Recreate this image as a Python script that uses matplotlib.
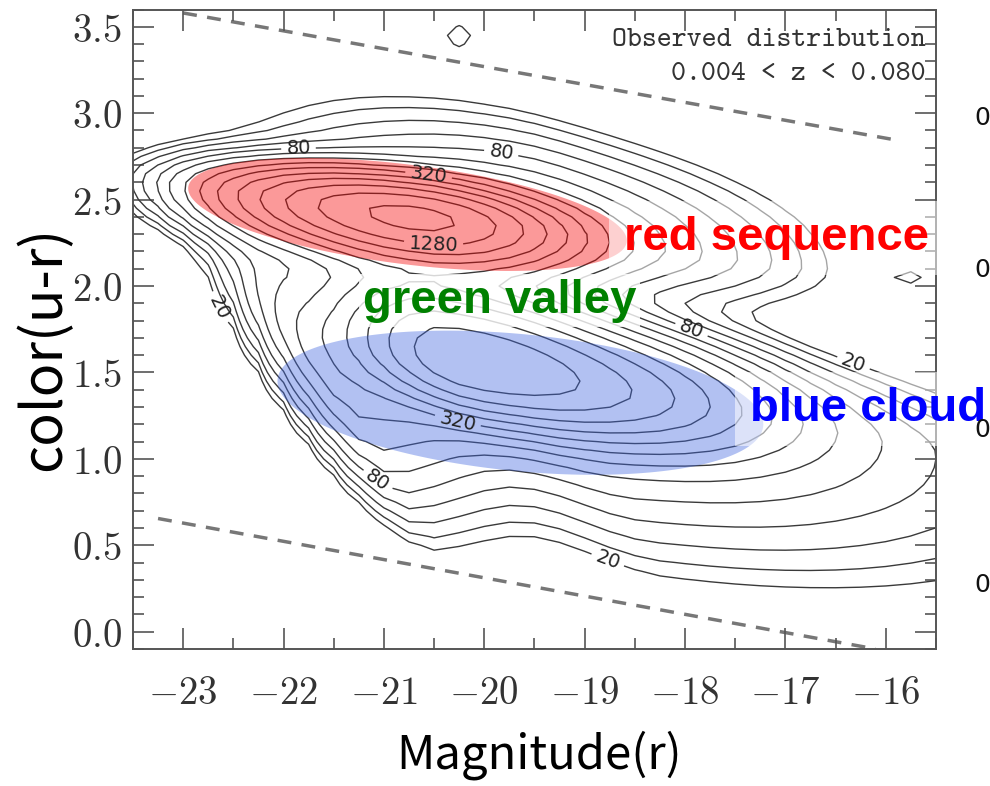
import numpy as np
import matplotlib
matplotlib.use("Agg")
import matplotlib.pyplot as plt
from matplotlib.patches import Polygon

plt.rcParams['mathtext.fontset'] = 'cm'

# model of the observed counts: red sequence (core, colour wing, faint end),
# blue cloud (core, faint extension, bright-end wing, broad tail), two small islands
comp_amp   = [1900, 110, 130, 1500, 500, 260, 150, 25, 20]
comp_mag   = [-20.7, -20.6, -19.3, -20.2, -18.7, -21.45, -19.0, -20.25, -15.75]
comp_col   = [2.40, 2.42, 2.30, 1.57, 1.40, 1.50, 1.40, 3.45, 2.05]
comp_slope = [-0.075, -0.075, -0.075, -0.11, -0.09, -0.11, -0.11, 0.0, 0.0]
comp_tilt  = [0.0, 0.0, 0.0, 0.5, 0.0, 1.0, 0.8, 0.0, 0.0]
comp_wb    = [1.0, 1.1, 0.8, 0.55, 0.9, 0.35, 0.8, 0.2, 0.2]
comp_wf    = [0.78, 1.0, 1.4, 0.9, 0.9, 1.0, 2.5, 0.2, 0.2]
comp_sd    = [0.146, 0.30, 0.18, 0.17, 0.18, 0.45, 0.50, 0.08, 0.05]
comp_su    = [0.12, 0.35, 0.30, 0.22, 0.20, 0.40, 0.25, 0.08, 0.05]

levels = [20, 28, 40, 57, 80, 113, 160, 226, 320, 453, 640, 905, 1280, 1810]
label_levels = [20, 80, 320, 1280]
label_pos = [(-19.8, 2.9), (-21.85, 2.78), (-20.55, 2.67), (-20.5, 2.27),
             (-22.7, 1.86), (-17.96, 1.71), (-16.35, 1.51), (-20.3, 1.14),
             (-20.87, 1.02), (-18.66, 0.58)]

# selection limits (dashed)
top_line_mag = [-23.0, -15.85]
top_line_col = [3.58, 2.84]
bot_line_mag = [-23.25, -16.1]
bot_line_col = [0.655, -0.10]

# highlighted regions: centre mag, centre colour, half length, half height, tilt
ell_names = ['red', 'blue']
ell_mag = [-20.765, -19.64]
ell_col = [2.414, 1.325]
ell_a = [2.185, 2.42]
ell_b = [0.29, 0.398]
ell_tilt = [0.069, 0.0517]
ell_face = ['#f50000', '#3f66e0']
ell_alpha = [0.40, 0.40]

xticks = [-23, -22, -21, -20, -19, -18, -17, -16]
yticks = [0.0, 0.5, 1.0, 1.5, 2.0, 2.5, 3.0, 3.5]


def density(M, C):
    z = np.zeros_like(M)
    for A, m0, c0, k, q, wb, wf, sd, su in zip(comp_amp, comp_mag, comp_col, comp_slope,
                                               comp_tilt, comp_wb, comp_wf, comp_sd, comp_su):
        ub = np.minimum(M - m0 + q * (C - c0), 0)
        uf = np.maximum(M - m0, 0)
        v = C - (c0 + k * (M - m0))
        wv = np.where(v < 0, sd, su)
        z += A * np.exp(-0.5 * ((ub / wb) ** 2 + (uf / wf) ** 2 + (v / wv) ** 2))
    return z


fig = plt.figure(figsize=(9.9, 7.86), dpi=100)
ax = fig.add_axes([0.1343, 0.1743, 0.8111, 0.8136])

mag = np.linspace(-23.5, -15.5, 33)
col = np.linspace(-0.1, 3.6, 75)
MM, CC = np.meshgrid(mag, col)
ZZ = density(MM, CC)

plain = [l for l in levels if l not in label_levels]
ax.contour(MM, CC, ZZ, levels=plain, colors='#3a3a3a', linewidths=1.0, zorder=2)
cs = ax.contour(MM, CC, ZZ, levels=label_levels, colors='#3a3a3a', linewidths=1.0, zorder=2)
ax.clabel(cs, manual=label_pos, fmt='%d', fontsize=14, inline=True, colors='#222222')

ax.plot(top_line_mag, top_line_col, ls=(0, (4, 3)), color='#777777', lw=2.5, zorder=1)
ax.plot(bot_line_mag, bot_line_col, ls=(0, (4, 3)), color='#777777', lw=2.5, zorder=1)

t = np.linspace(0, 2 * np.pi, 200)
for i in range(len(ell_names)):
    ex = ell_mag[i] + ell_a[i] * np.cos(t)
    ey = ell_col[i] + ell_b[i] * np.sin(t) - ell_tilt[i] * ell_a[i] * np.cos(t)
    ax.add_patch(Polygon(np.column_stack([ex, ey]), closed=True, facecolor=ell_face[i],
                         edgecolor='none', alpha=ell_alpha[i], zorder=3))

lab_font = dict(fontsize=34, fontweight='bold', family='Liberation Sans',
                va='center', ha='left', zorder=5, clip_on=False)
ax.text(-18.61, 2.28, 'red sequence', color='#ff0000', **lab_font,
        bbox=dict(facecolor='white', edgecolor='none', alpha=0.55, pad=11))
ax.text(-21.21, 1.915, 'green valley', color='#008000', **lab_font,
        bbox=dict(facecolor='white', edgecolor='none', alpha=0.8, pad=3))
ax.text(-17.35, 1.29, 'blue cloud', color='#0000ff', **lab_font,
        bbox=dict(facecolor='white', edgecolor='none', alpha=0.55, pad=11))

ax.text(0.987, 0.952, 'Observed distribution', transform=ax.transAxes, ha='right',
        va='center', family='cmtt10', fontsize=20.5, color='#333333')
ax.text(0.987, 0.898, '0.004 < z < 0.080', transform=ax.transAxes, ha='right',
        va='center', family='cmtt10', fontsize=20.5, color='#333333')

ax.set_xlim(-23.5, -15.5)
ax.set_ylim(-0.1, 3.6)
ax.set_xticks(xticks, ['$%d$' % v for v in xticks])
ax.set_yticks(yticks, ['$%.1f$' % v for v in yticks])
ax.set_xticks(np.arange(-23.5, -15.4, 0.5), minor=True)
ax.set_yticks(np.arange(-0.1, 3.61, 0.1), minor=True)
ax.tick_params(which='both', direction='in', top=True, right=True, color='#555555', width=1.2)
ax.tick_params(which='major', length=15, labelsize=28, labelcolor='#333333')
ax.tick_params(which='minor', length=8)
ax.tick_params(axis='x', pad=18)
ax.tick_params(axis='y', pad=8)
for s in ax.spines.values():
    s.set_color('#555555')
    s.set_linewidth(1.4)

fig.text(539 / 990, 1 - 755 / 786, 'Magnitude(r)', ha='center', va='center',
         family=['Noto Sans CJK SC', 'DejaVu Sans'], fontsize=34)
fig.text(44 / 990, 1 - 348 / 786, 'color(u-r)', ha='center', va='center', rotation=90,
         family=['Noto Sans CJK SC', 'DejaVu Sans'], fontsize=40)

# tick labels of the neighbouring panel, cut by the right edge
for yy in [118, 270, 430, 585]:
    fig.text(974 / 990, 1 - yy / 786, '0', ha='left', va='center',
             family='DejaVu Sans', fontsize=18, color='#111111', zorder=0)

fig.savefig('out.png', dpi=100)
